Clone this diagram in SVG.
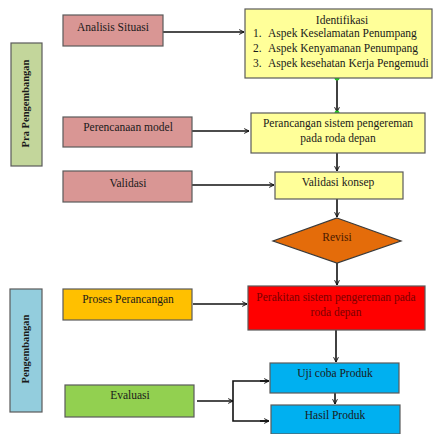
<svg xmlns="http://www.w3.org/2000/svg" width="433" height="434" viewBox="0 0 433 434">
<style>
.box{stroke:#5a5a5a;stroke-width:1.2}
.t{font-family:"Liberation Serif","Times New Roman",serif;font-size:11.5px;fill:#1a1a1a;text-anchor:middle}
.l{font-family:"Liberation Serif","Times New Roman",serif;font-size:11.5px;fill:#1a1a1a}
.b{font-family:"Liberation Serif","Times New Roman",serif;font-size:10.5px;font-weight:bold;fill:#1a1a1a;text-anchor:middle}
.c{fill:none;stroke:#111;stroke-width:1.6}
</style>
<defs>
<marker id="ah" viewBox="0 0 10 10" refX="9" refY="5" markerWidth="6" markerHeight="6" markerUnits="userSpaceOnUse" orient="auto">
<polyline points="1,1 9,5 1,9" fill="none" stroke="#111" stroke-width="1.6"/>
</marker>
</defs>
<rect width="433" height="434" fill="#ffffff"/>
<g id="connectors">
<line class="c" x1="163" y1="32" x2="244" y2="32" marker-end="url(#ah)"/>
<line class="c" x1="192" y1="131" x2="249" y2="131" marker-end="url(#ah)"/>
<line class="c" x1="192" y1="185" x2="274" y2="185" marker-end="url(#ah)"/>
<line class="c" x1="337" y1="78" x2="337" y2="112" marker-end="url(#ah)"/>
<line class="c" x1="337" y1="153" x2="337" y2="171" marker-end="url(#ah)"/>
<line class="c" x1="337" y1="199" x2="337" y2="217" marker-end="url(#ah)"/>
<line class="c" x1="337" y1="263" x2="337" y2="285" marker-end="url(#ah)"/>
<line class="c" x1="193" y1="304" x2="247" y2="304" marker-end="url(#ah)"/>
<line class="c" x1="336" y1="330" x2="336" y2="362" marker-end="url(#ah)"/>
<line class="c" x1="335" y1="393" x2="335" y2="404" marker-end="url(#ah)"/>
<line class="c" x1="197" y1="401" x2="233" y2="401" marker-end="url(#ah)"/>
<polyline class="c" points="268,381 233,381 233,421 268,421"/>
<line class="c" x1="260" y1="381" x2="269" y2="381" marker-end="url(#ah)"/>
<line class="c" x1="260" y1="421" x2="269" y2="421" marker-end="url(#ah)"/>
<circle cx="337" cy="78" r="2.5" fill="#22cc22"/>
<circle cx="337" cy="113" r="2.5" fill="#22cc22"/>
</g>
<g id="pra-pengembangan">
<rect class="box" x="11" y="43" width="31" height="123" fill="#c3d69b"/>
<text class="b" transform="translate(29,103.5) rotate(-90)">Pra Pengembangan</text>
</g>
<g id="pengembangan">
<rect class="box" x="10" y="289" width="32" height="123" fill="#93cddd"/>
<text class="b" transform="translate(29,349) rotate(-90)">Pengembangan</text>
</g>
<g id="analisis-situasi">
<rect class="box" x="63" y="15" width="100" height="31" fill="#d99694"/>
<text class="t" x="113" y="31">Analisis Situasi</text>
</g>
<g id="perencanaan-model">
<rect class="box" x="63" y="117" width="129" height="30" fill="#d99694"/>
<text class="t" x="128" y="131">Perencanaan model</text>
</g>
<g id="validasi">
<rect class="box" x="63" y="171" width="129" height="31" fill="#d99694"/>
<text class="t" x="128" y="187">Validasi</text>
</g>
<g id="proses-perancangan">
<rect class="box" x="63" y="289" width="129" height="31" fill="#ffc000"/>
<text class="t" x="128" y="303">Proses Perancangan</text>
</g>
<g id="evaluasi">
<rect class="box" x="65" y="385" width="129" height="32" fill="#92d050"/>
<text class="t" x="130" y="399">Evaluasi</text>
</g>
<g id="identifikasi">
<rect class="box" x="245" y="9" width="187" height="69" fill="#ffff99"/>
<text class="t" x="342" y="24">Identifikasi</text>
<text class="l" x="253" y="37">1.</text>
<text class="l" x="268" y="37">Aspek Keselamatan Penumpang</text>
<text class="l" x="253" y="52">2.</text>
<text class="l" x="268" y="52">Aspek Kenyamanan Penumpang</text>
<text class="l" x="253" y="67">3.</text>
<text class="l" x="268" y="67">Aspek kesehatan Kerja Pengemudi</text>
</g>
<g id="perancangan-sistem">
<rect class="box" x="251" y="113" width="174" height="40" fill="#ffff99"/>
<text class="t" x="338" y="127">Perancangan sistem pengereman</text>
<text class="t" x="338" y="142">pada roda depan</text>
</g>
<g id="validasi-konsep">
<rect class="box" x="275" y="172" width="128" height="27" fill="#ffff99"/>
<text class="t" x="338" y="186">Validasi konsep</text>
</g>
<g id="revisi">
<polygon points="337,218 401,241 337,263 273,241" fill="#e46c0a" stroke="#3a3a3a" stroke-width="1.2"/>
<text class="t" x="337" y="241" style="fill:#4a1a00">Revisi</text>
</g>
<g id="perakitan">
<rect class="box" x="248" y="286" width="177" height="44" fill="#ff0000"/>
<text class="t" x="336" y="301" style="fill:#7a0000">Perakitan sistem pengereman pada</text>
<text class="t" x="336" y="316" style="fill:#7a0000">roda depan</text>
</g>
<g id="uji-coba">
<rect class="box" x="270" y="363" width="129" height="30" fill="#00b0f0"/>
<text class="t" x="335" y="377">Uji coba Produk</text>
</g>
<g id="hasil-produk">
<rect class="box" x="271" y="405" width="129" height="29" fill="#00b0f0"/>
<text class="t" x="335" y="419">Hasil Produk</text>
</g>
</svg>
